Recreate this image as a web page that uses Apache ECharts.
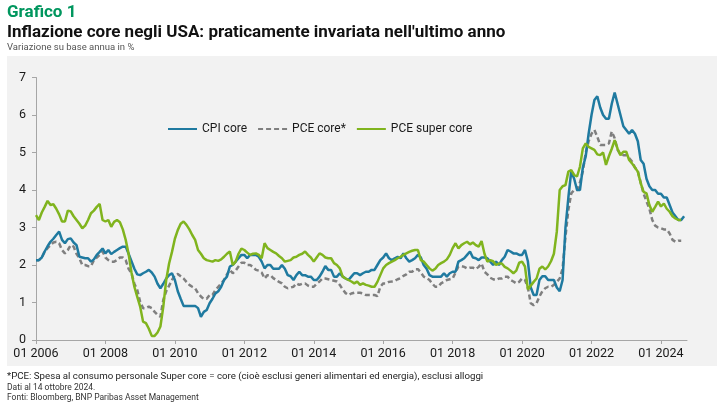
<!DOCTYPE html>
<html>
<head>
<meta charset="utf-8">
<script src="https://cdn.jsdelivr.net/npm/echarts@6/dist/echarts.min.js"></script>
<style>
html,body{margin:0;padding:0;background:#ffffff;}
#chart{width:725px;height:411px;}
</style>
</head>
<body>
<div id="chart"></div>
<script>
// ---- Data (year-on-year %, monthly, Jan 2006 onwards) ----
const startYear = 2006;
const endYear = 2024;
const endMonth = 10; // axis runs to Oct 2024
const seriesNames = ['CPI core', 'PCE core*', 'PCE super core'];
const yTicks = [0, 1, 2, 3, 4, 5, 6, 7];

const cpiCore = [
  2.13,2.13,2.2,2.36,2.5,2.62,2.7,2.8,2.89,2.67,2.58,2.69,
  2.71,2.6,2.53,2.22,2.2,2.18,2.18,2.09,2.15,2.27,2.35,2.44,
  2.31,2.4,2.29,2.35,2.4,2.45,2.49,2.49,2.3,2.1,1.9,1.75,
  1.73,1.78,1.82,1.87,1.8,1.69,1.5,1.38,1.5,1.64,1.73,1.78,
  1.6,1.3,1.1,0.91,0.91,0.91,0.91,0.91,0.85,0.62,0.75,0.8,
  0.98,1.1,1.24,1.3,1.42,1.6,1.69,1.96,2.0,2.09,2.18,2.27,
  2.27,2.18,2.27,2.27,2.27,2.22,2.09,1.91,2.0,2.0,1.9,1.9,
  1.9,2.0,1.9,1.73,1.7,1.6,1.73,1.82,1.73,1.73,1.69,1.69,
  1.6,1.6,1.69,1.82,1.97,1.87,1.87,1.69,1.69,1.78,1.69,1.64,
  1.6,1.69,1.78,1.78,1.73,1.78,1.82,1.82,1.87,1.87,2.0,2.13,
  2.2,2.31,2.18,2.13,2.18,2.22,2.18,2.31,2.18,2.09,2.13,2.18,
  2.27,2.2,2.0,1.9,1.73,1.69,1.69,1.69,1.69,1.78,1.69,1.78,
  1.82,1.82,2.09,2.13,2.18,2.27,2.36,2.2,2.18,2.13,2.2,2.2,
  2.18,2.09,2.0,2.09,2.0,2.13,2.22,2.4,2.36,2.31,2.31,2.27,
  2.27,2.4,2.1,1.4,1.2,1.2,1.6,1.7,1.7,1.6,1.6,1.6,
  1.4,1.3,1.6,3.0,3.8,4.5,4.3,4.0,4.0,4.6,4.9,5.5,
  6.0,6.4,6.5,6.2,6.0,5.9,5.9,6.3,6.6,6.3,6.0,5.7,
  5.6,5.5,5.6,5.5,5.3,4.8,4.7,4.3,4.1,4.0,4.0,3.9,
  3.9,3.8,3.8,3.6,3.4,3.3,3.2,3.2,3.3
];

const pceCore = [
  2.13,2.13,2.2,2.36,2.45,2.53,2.6,2.62,2.58,2.4,2.31,2.4,
  2.53,2.49,2.3,2.18,2.0,2.0,1.97,1.97,2.13,2.2,2.27,2.36,
  2.2,2.13,2.09,2.09,2.13,2.2,2.2,2.13,1.9,1.78,1.5,1.33,
  1.02,0.85,0.85,0.89,0.85,0.75,0.67,0.62,1.07,1.3,1.45,1.6,
  1.73,1.76,1.7,1.64,1.55,1.47,1.42,1.38,1.25,1.16,1.09,1.1,
  1.2,1.2,1.33,1.42,1.51,1.6,1.75,1.87,1.78,1.85,1.96,2.06,
  2.06,2.0,2.0,1.95,1.87,1.85,1.8,1.64,1.73,1.73,1.65,1.6,
  1.55,1.51,1.42,1.38,1.4,1.42,1.51,1.47,1.5,1.51,1.45,1.42,
  1.42,1.5,1.56,1.64,1.64,1.62,1.6,1.58,1.56,1.47,1.35,1.25,
  1.2,1.24,1.26,1.26,1.26,1.24,1.2,1.2,1.2,1.2,1.17,1.42,
  1.51,1.51,1.55,1.56,1.58,1.62,1.65,1.71,1.75,1.82,1.82,1.89,
  1.89,1.8,1.69,1.65,1.6,1.5,1.42,1.42,1.51,1.55,1.6,1.62,
  1.64,1.8,1.96,1.97,1.95,1.91,1.93,1.93,1.89,1.95,2.04,1.82,
  1.75,1.66,1.62,1.6,1.64,1.64,1.69,1.69,1.6,1.56,1.51,1.55,
  1.64,1.6,1.4,0.98,0.93,0.98,1.16,1.3,1.38,1.42,1.42,1.47,
  1.55,1.64,1.9,2.76,3.47,3.91,4.0,4.0,4.2,4.5,5.0,5.3,
  5.5,5.6,5.42,5.2,5.2,5.2,5.24,5.56,5.38,5.07,4.95,4.93,
  4.93,4.85,4.76,4.6,4.5,4.2,3.9,3.7,3.5,3.2,3.05,3.0,
  2.98,2.95,2.95,2.84,2.67,2.62,2.65,2.65
];

const pceSuperCore = [
  3.33,3.2,3.4,3.55,3.71,3.6,3.62,3.5,3.35,3.16,3.16,3.45,
  3.43,3.3,3.2,3.1,2.98,3.05,3.2,3.38,3.45,3.55,3.63,3.2,
  3.16,3.2,3.02,3.15,3.2,3.14,2.95,2.67,2.3,1.8,1.42,1.15,
  0.89,0.49,0.45,0.3,0.11,0.11,0.2,0.36,0.89,1.6,2.04,2.35,
  2.7,2.93,3.1,3.16,3.07,2.95,2.8,2.67,2.4,2.3,2.18,2.13,
  2.11,2.09,2.13,2.11,2.15,2.22,2.3,2.36,2.0,2.09,2.3,2.44,
  2.4,2.33,2.27,2.3,2.31,2.27,2.18,2.58,2.45,2.4,2.35,2.31,
  2.24,2.18,2.09,2.11,2.13,2.2,2.22,2.27,2.3,2.36,2.27,2.2,
  2.09,2.2,2.31,2.27,2.2,2.18,2.18,2.05,2.0,1.91,1.69,1.64,
  1.6,1.56,1.51,1.56,1.47,1.51,1.47,1.45,1.42,1.42,1.55,1.73,
  1.91,2.0,2.05,2.09,2.13,2.18,2.22,2.27,2.31,2.35,2.38,2.4,
  2.4,2.13,2.09,2.0,1.91,1.85,1.9,2.0,2.05,2.09,2.15,2.27,
  2.45,2.58,2.44,2.53,2.58,2.62,2.55,2.6,2.53,2.49,2.64,2.3,
  2.09,2.13,2.1,2.0,2.04,2.04,1.95,1.91,1.85,1.78,1.85,2.06,
  2.09,1.96,1.35,1.45,1.55,1.64,1.9,1.96,1.88,1.96,2.1,2.3,
  2.89,4.0,4.1,4.13,4.49,4.53,4.4,4.36,4.62,5.11,5.24,5.15,
  5.11,5.07,4.95,4.93,5.0,4.67,4.9,5.1,5.33,5.1,4.93,5.02,
  5.02,4.8,4.71,4.6,4.49,4.18,3.95,3.91,3.6,3.42,3.55,3.69,
  3.56,3.64,3.5,3.42,3.3,3.24,3.2,3.2
];

// month categories "YYYY-MM"
const categories = [];
for (let y = startYear; y <= endYear; y++) {
  for (let m = 1; m <= 12; m++) {
    if (y === endYear && m > endMonth) break;
    categories.push(y + '-' + (m < 10 ? '0' + m : '' + m));
  }
}

const chart = echarts.init(document.getElementById('chart'), null, {renderer: 'canvas'});
const FONT = 'Roboto, "Noto Sans", sans-serif';
const txt = '#1a1a1a';
const axisGray = '#a6a6a6';

const option = {
  animation: false,
  backgroundColor: '#ffffff',
  textStyle: {fontFamily: FONT},
  graphic: [
    {type: 'rect', silent: true, z: -10, shape: {x: 7, y: 56, width: 710, height: 310}, style: {fill: '#f2f2f2'}},
    {type: 'text', left: 7, top: 4, style: {text: 'Grafico 1', font: 'bold 17px ' + FONT, fill: '#00965e'}},
    {type: 'text', left: 7, top: 24, style: {text: "Inflazione core negli USA: praticamente invariata nell'ultimo anno", font: 'bold 17px ' + FONT, fill: '#111111'}},
    {type: 'text', left: 7, top: 43, style: {text: 'Variazione su base annua in %', font: '9.5px ' + FONT, fill: '#555555'}},
    {type: 'text', left: 7, top: 372, style: {text: '*PCE: Spesa al consumo personale Super core = core (cioè esclusi generi alimentari ed energia), esclusi alloggi', font: '9.7px ' + FONT, fill: '#222222'}},
    {type: 'text', left: 7, top: 383, style: {text: 'Dati al 14 ottobre 2024.', font: '8.5px ' + FONT, fill: '#333333'}},
    {type: 'text', left: 7, top: 393, style: {text: 'Fonti: Bloomberg, BNP Paribas Asset Management', font: '8.5px ' + FONT, fill: '#333333'}}
  ],
  legend: {
    left: 162,
    top: 118,
    itemWidth: 29,
    itemHeight: 14,
    itemGap: 10,
    itemStyle: {opacity: 0},
    textStyle: {fontSize: 12, color: txt, fontFamily: FONT},
    data: seriesNames
  },
  grid: {left: 36, right: 38, top: 77.5, bottom: 71},
  xAxis: {
    type: 'category',
    boundaryGap: false,
    data: categories,
    axisLine: {lineStyle: {color: axisGray, width: 1}},
    axisTick: {show: true, length: 4, lineStyle: {color: axisGray}, interval: function (i) { return i % 24 === 0; }},
    axisLabel: {
      interval: function (i) { return i % 24 === 0; },
      color: txt, fontSize: 12.5, margin: 7, fontFamily: FONT,
      formatter: function (v) { return v.slice(5) + ' ' + v.slice(0, 4); }
    },
    splitLine: {show: false}
  },
  yAxis: {
    type: 'value',
    min: yTicks[0], max: yTicks[yTicks.length - 1], interval: 1,
    axisLine: {show: true, lineStyle: {color: axisGray, width: 1}},
    axisTick: {show: true, length: 4, lineStyle: {color: axisGray}},
    axisLabel: {color: txt, fontSize: 12.5, margin: 10, fontFamily: FONT},
    splitLine: {show: false}
  },
  series: [
    {name: seriesNames[0], type: 'line', data: cpiCore, symbol: 'none', z: 3,
     lineStyle: {color: '#1f7aa0', width: 2.5}, itemStyle: {color: '#1f7aa0'}},
    {name: seriesNames[1], type: 'line', data: pceCore, symbol: 'none', z: 2,
     lineStyle: {color: '#7f7f7f', width: 2.5, type: [5, 3]}, itemStyle: {color: '#7f7f7f'}},
    {name: seriesNames[2], type: 'line', data: pceSuperCore, symbol: 'none', z: 4,
     lineStyle: {color: '#80b41e', width: 2.5}, itemStyle: {color: '#80b41e'}}
  ]
};
chart.setOption(option);
</script>
</body>
</html>
